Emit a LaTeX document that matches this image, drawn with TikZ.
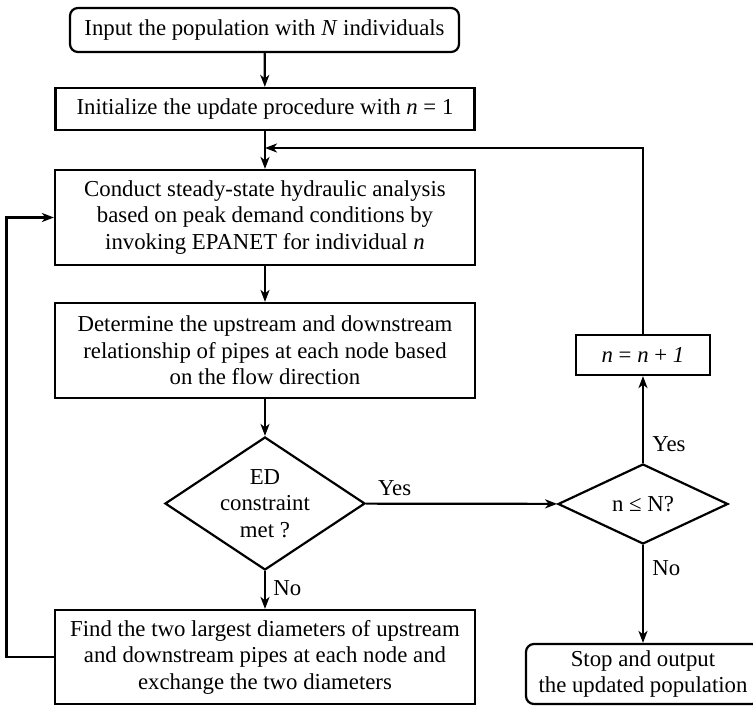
\documentclass[tikz,border=0pt]{standalone}
\usepackage{fontspec}
\setmainfont{Liberation Serif}
\usetikzlibrary{shapes.geometric,arrows.meta}

\begin{document}
\begin{tikzpicture}[x=1pt,y=1pt,line width=2.2pt,
  font=\fontsize{22.8}{26.5}\selectfont,
  box/.style={draw,align=center,inner sep=0pt},
  term/.style={box,rounded corners=8pt},
  decision/.style={draw,diamond,aspect=1.5,align=center,inner sep=0pt},
  flow/.style={-{Stealth[length=12pt,width=9pt,inset=3.5pt]}}]
\useasboundingbox (0,0) rectangle (753,-706);

\node[term,minimum width=389,minimum height=44] (input) at (264.5,-30) {Input the population with \textit{N} individuals};
\node[box,minimum width=419,minimum height=42] (init) at (265,-109) {Initialize the update procedure with \textit{n} = 1};
\node[box,minimum width=420,minimum height=95] (hyd) at (265,-217.5) {Conduct steady-state hydraulic analysis\\based on peak demand conditions by\\invoking EPANET for individual \textit{n}};
\node[box,minimum width=420,minimum height=95] (rel) at (265,-350.5) {Determine the upstream and downstream\\relationship of pipes at each node based\\on the flow direction};
\node[decision,minimum width=200,minimum height=133] (ed) at (265,-503.5) {ED\\constraint\\met ?};
\node[box,minimum width=420,minimum height=94] (find) at (265,-657) {Find the two largest diameters of upstream\\and downstream pipes at each node and\\exchange the two diameters};
\node[decision,minimum width=170,minimum height=80] (chk) at (643,-504) {n ≤ N?};
\node[box,minimum width=134,minimum height=40] (inc) at (643,-355) {\textit{n} = \textit{n} + \textit{1}};
\node[term,minimum width=234,minimum height=60] (stop) at (643,-674) {Stop and output\\the updated population};
\coordinate (join) at (265,-148);

\draw[flow] (input) -- (init);
\draw[flow] (init) -- (hyd);
\draw[flow] (hyd) -- (rel);
\draw[flow] (rel) -- (ed);
\draw[flow] (ed) -- node[right,pos=0.45,xshift=4pt]{No} (find);
\draw[flow] (ed) -- node[above,pos=0.15,yshift=4pt]{Yes} (chk);
\draw[flow] (chk) -- node[right,pos=0.22,xshift=5pt]{Yes} (inc);
\draw[flow] (chk) -- node[right,pos=0.24,xshift=5pt]{No} (stop);
\draw[flow] (inc) |- (join);
\draw[flow] (find.west) -- ++(-47.5,0) |- (hyd.west);
\end{tikzpicture}
\end{document}
